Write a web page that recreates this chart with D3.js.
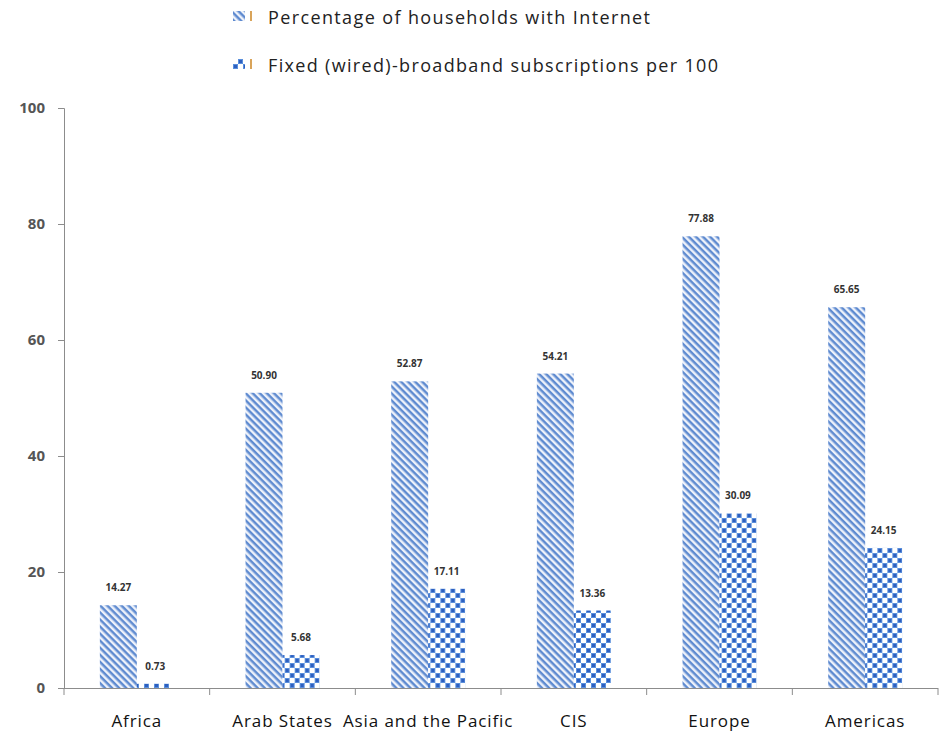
<!DOCTYPE html>
<head>
    <meta charset="utf-8">
    <script src="https://d3js.org/d3.v7.min.js"></script>
    <style>
    body { margin: 0; background: #fff; }
    .axis path, .axis line { stroke: #8c8c8c; }
    .axis--y text { fill: #555; font-size: 15px; font-weight: bold; font-family: "Open Sans", sans-serif; }
    .cat { fill: #111; font-size: 17px; letter-spacing: 0.9px; font-family: "Open Sans", sans-serif; }
    .val { fill: #333; font-size: 10px; font-weight: bold; font-family: "Open Sans", sans-serif; }
    .legend { fill: #222; font-size: 18px; font-family: "Open Sans", sans-serif; }
    </style>
</head>
<body>
<script>
var categories = ["Africa", "Arab States", "Asia and the Pacific", "CIS", "Europe", "Americas"];
var households = [14.27, 50.90, 52.87, 54.21, 77.88, 65.65];
var broadband = [0.73, 5.68, 17.11, 13.36, 30.09, 24.15];
var seriesNames = ["Percentage of households with Internet", "Fixed (wired)-broadband subscriptions per 100"];
var yTicks = [0, 20, 40, 60, 80, 100];

var W = 942, H = 733;
var margin = {top: 108, right: 4, bottom: 45, left: 64};

var svg = d3.select("body").append("svg")
    .attr("width", W)
    .attr("height", H);

var defs = svg.append("defs");

// diagonal stripes, "\" direction
var stripe = defs.append("pattern")
    .attr("id", "stripes")
    .attr("patternUnits", "userSpaceOnUse")
    .attr("width", 5).attr("height", 5)
    .attr("patternTransform", "rotate(45)");
stripe.append("rect").attr("width", 5).attr("height", 5).attr("fill", "#eef2fa");
stripe.append("rect").attr("width", 5).attr("height", 2.5).attr("fill", "#5f8bd0");

// checker
var check = defs.append("pattern")
    .attr("id", "checker")
    .attr("patternUnits", "userSpaceOnUse")
    .attr("width", 10).attr("height", 10);
check.append("rect").attr("width", 10).attr("height", 10).attr("fill", "#5a8fdc");
check.append("rect").attr("x", 0).attr("y", 0).attr("width", 5).attr("height", 5).attr("fill", "#fff");
check.append("rect").attr("x", 5).attr("y", 5).attr("width", 5).attr("height", 5).attr("fill", "#fff");
check.append("rect").attr("x", 1).attr("y", 6).attr("width", 3).attr("height", 3).attr("fill", "#2d5fbf");
check.append("rect").attr("x", 6).attr("y", 1).attr("width", 3).attr("height", 3).attr("fill", "#2d5fbf");

var fills = ["url(#stripes)", "url(#checker)"];

var width = W - margin.left - margin.right;
var height = H - margin.top - margin.bottom;

var g = svg.append("g")
    .attr("transform", "translate(" + margin.left + "," + margin.top + ")");

var x0 = d3.scaleBand()
    .domain(categories)
    .range([0, width])
    .padding(0);

var x1 = d3.scaleBand()
    .domain([0, 1])
    .range([0, x0.bandwidth()])
    .paddingInner(0)
    .paddingOuter(0.97);

var y = d3.scaleLinear()
    .domain([0, 100])
    .range([height, 0]);

// y axis
g.append("g")
    .attr("class", "axis axis--y")
    .call(d3.axisLeft(y).tickValues(yTicks).tickSize(6).tickPadding(13))
    .call(function(s) { s.select(".domain").attr("d", "M-6,0.5H0.5V" + (height + 0.5)); });

// x axis line with ticks at category boundaries
var xa = g.append("g").attr("class", "axis axis--x")
    .attr("transform", "translate(0," + height + ")");
xa.append("path")
    .attr("d", "M0,0.5H" + width)
    .attr("fill", "none");
var bounds = categories.map(function(c) { return x0(c); }).concat([width]);
xa.selectAll("line")
    .data(bounds)
    .enter().append("line")
    .attr("x1", function(d) { return d; })
    .attr("x2", function(d) { return d; })
    .attr("y1", 0)
    .attr("y2", 7);

xa.selectAll(".cat")
    .data(categories)
    .enter().append("text")
    .attr("class", "cat")
    .attr("x", function(d) { return x0(d) + x0.bandwidth() / 2; })
    .attr("y", 39)
    .attr("text-anchor", "middle")
    .text(function(d) { return d; });

var series = [households, broadband];

var rows = categories.map(function(c, i) {
    return {cat: c, vals: series.map(function(s) { return s[i]; })};
});

var grp = g.selectAll(".grp")
    .data(rows)
    .enter().append("g")
    .attr("class", "grp")
    .attr("transform", function(d) { return "translate(" + x0(d.cat) + ",0)"; });

grp.selectAll("rect")
    .data(function(d) { return d.vals.map(function(v, k) { return {k: k, v: v}; }); })
    .enter().append("rect")
    .attr("x", function(d) { return x1(d.k); })
    .attr("width", x1.bandwidth())
    .attr("y", function(d) { return y(d.v); })
    .attr("height", function(d) { return height - y(d.v); })
    .attr("fill", function(d) { return fills[d.k]; });

grp.selectAll(".val")
    .data(function(d) { return d.vals.map(function(v, k) { return {k: k, v: v}; }); })
    .enter().append("text")
    .attr("class", "val")
    .attr("x", function(d) { return x1(d.k) + x1.bandwidth() / 2; })
    .attr("y", function(d) { return y(d.v) - 14; })
    .attr("text-anchor", "middle")
    .text(function(d) { return d.v.toFixed(2); });

// legend
var leg = svg.selectAll(".leg")
    .data(seriesNames)
    .enter().append("g")
    .attr("class", "leg")
    .attr("transform", function(d, i) { return "translate(233," + (11 + i * 48) + ")"; });

leg.append("rect")
    .attr("width", 12)
    .attr("height", 10)
    .attr("fill", function(d, i) { return fills[i]; });
leg.append("rect")
    .attr("x", 17).attr("y", 0)
    .attr("width", 2).attr("height", 10)
    .attr("fill", "#d9a45a");
leg.append("text")
    .attr("class", "legend")
    .attr("x", 35)
    .attr("y", 13)
    .attr("textLength", function(d, i) { return i === 0 ? 382 : 450; })
    .attr("lengthAdjust", "spacing")
    .text(function(d) { return d; });
</script>
</body>
